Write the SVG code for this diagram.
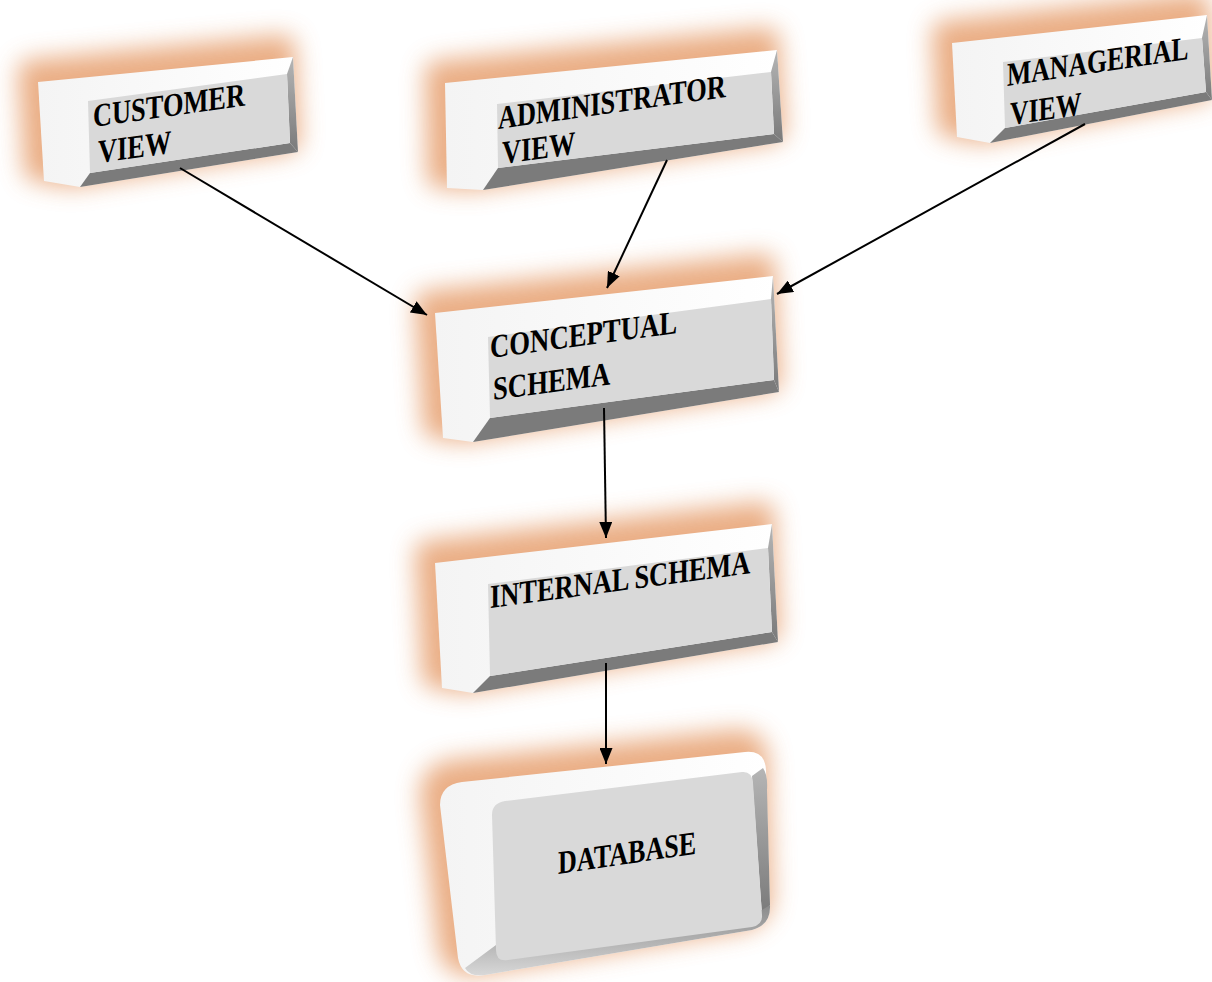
<svg xmlns="http://www.w3.org/2000/svg" width="1212" height="982" viewBox="0 0 1212 982">
  <defs>
    <filter id="glow" x="-40%" y="-80%" width="180%" height="260%">
      <feGaussianBlur stdDeviation="12"/>
    </filter>
    <linearGradient id="rightBevel" x1="0" y1="0" x2="0" y2="1">
      <stop offset="0" stop-color="#b5b5b5"/>
      <stop offset="1" stop-color="#7a7a7a"/>
    </linearGradient>
    <linearGradient id="leftSide" x1="0" y1="0" x2="1" y2="0">
      <stop offset="0" stop-color="#f4f4f4"/>
      <stop offset="1" stop-color="#ffffff"/>
    </linearGradient>
    <linearGradient id="dbBottom" x1="0" y1="0" x2="0" y2="1">
      <stop offset="0" stop-color="#8a8a8a"/>
      <stop offset="1" stop-color="#d8d8d8"/>
    </linearGradient>
    <marker id="arrow" markerUnits="userSpaceOnUse" markerWidth="16" markerHeight="13" viewBox="0 0 16 13" refX="16" refY="6.5" orient="auto">
      <path d="M0,0 L16,6.5 L0,13 Z" fill="#000"/>
    </marker>
  </defs>
  <style>
    .glow { fill: #e59a66; stroke: #e59a66; stroke-width: 22; stroke-linejoin: round; opacity: 0.8; filter: url(#glow); }
    .slab { fill: url(#leftSide); }
    .face { fill: #d9d9d9; }
    .bottom { fill: #7b7b7b; }
    .right { fill: url(#rightBevel); }
    .label { font-family: "Liberation Serif", "Times New Roman", serif; font-weight: bold; font-size: 33px; fill: #000; }
    .edge { stroke: #000; stroke-width: 2; fill: none; marker-end: url(#arrow); }
  </style>
  <rect width="1212" height="982" fill="#ffffff"/>

  <!-- customer view -->
  <g id="customer-view">
    <polygon class="glow" transform="translate(-9,-11)" points="38,82 293,57 298,152 80,187 44,181"/>
    <polygon class="slab" points="38,82 293,57 298,152 80,187 44,181"/>
    <polygon class="right" points="287,74 293,57 298,152 290,143"/>
    <polygon class="bottom" points="90,173 290,143 298,152 80,187"/>
    <polygon class="face" points="88,101 287,74 290,143 90,173"/>
    <text class="label" transform="translate(93 127) skewY(-8) scale(0.8 1)">CUSTOMER</text>
    <text class="label" transform="translate(98 163) skewY(-8) scale(0.8 1)">VIEW</text>
  </g>

  <!-- administrator view -->
  <g id="administrator-view">
    <polygon class="glow" transform="translate(-9,-11)" points="445,83 777,50 783,142 483,190 447,188"/>
    <polygon class="slab" points="445,83 777,50 783,142 483,190 447,188"/>
    <polygon class="right" points="771,72 777,50 783,142 774,134"/>
    <polygon class="bottom" points="498,168 774,134 783,142 483,190"/>
    <polygon class="face" points="497,104 771,72 774,134 498,168"/>
    <text class="label" transform="translate(498 129) skewY(-8) scale(0.8 1)">ADMINISTRATOR</text>
    <text class="label" transform="translate(502 164) skewY(-8) scale(0.8 1)">VIEW</text>
  </g>

  <!-- managerial view -->
  <g id="managerial-view">
    <polygon class="glow" transform="translate(-9,-11)" points="952,43 1207,15 1212,100 990,143 957,137"/>
    <polygon class="slab" points="952,43 1207,15 1212,100 990,143 957,137"/>
    <polygon class="right" points="1202,38 1207,15 1212,100 1206,92"/>
    <polygon class="bottom" points="1005,128 1206,92 1212,100 990,143"/>
    <polygon class="face" points="1003,62 1202,38 1206,92 1005,128"/>
    <text class="label" transform="translate(1007 86) skewY(-8.5) scale(0.78 1)">MANAGERIAL</text>
    <text class="label" transform="translate(1010 125) skewY(-8.5) scale(0.78 1)">VIEW</text>
  </g>

  <!-- conceptual schema -->
  <g id="conceptual-schema">
    <polygon class="glow" transform="translate(-9,-11)" points="435,313 773,276 779,392 473,442 443,438"/>
    <polygon class="slab" points="435,313 773,276 779,392 473,442 443,438"/>
    <polygon class="right" points="771,299 773,276 779,392 774,380"/>
    <polygon class="bottom" points="490,418 774,380 779,392 473,442"/>
    <polygon class="face" points="488,337 771,299 774,380 490,418"/>
    <text class="label" transform="translate(490 358) skewY(-7.6) scale(0.81 1)">CONCEPTUAL</text>
    <text class="label" transform="translate(493 400) skewY(-7.6) scale(0.81 1)">SCHEMA</text>
  </g>

  <!-- internal schema -->
  <g id="internal-schema">
    <polygon class="glow" transform="translate(-9,-11)" points="435,563 772,524 778,642 473,693 442,688"/>
    <polygon class="slab" points="435,563 772,524 778,642 473,693 442,688"/>
    <polygon class="right" points="768,548 772,524 778,642 772,632"/>
    <polygon class="bottom" points="490,676 772,632 778,642 473,693"/>
    <polygon class="face" points="488,584 768,548 772,632 490,676"/>
    <text class="label" transform="translate(490 608) skewY(-7.6) scale(0.8 1)">INTERNAL SCHEMA</text>
  </g>

  <!-- database -->
  <g id="database">
    <path class="glow" transform="translate(-9,-11)" d="M440,805 Q440,785 462,782 L745,752 Q765,750 766,770 L770,905 Q771,925 752,930 L485,975 Q462,979 458,958 Z"/>
    <path class="slab" d="M440,805 Q440,785 462,782 L745,752 Q765,750 766,770 L770,905 Q771,925 752,930 L485,975 Q462,979 458,958 Z"/>
    <path fill="url(#rightBevel)" d="M752,776 L763,768 Q768,775 767,790 L770,905 L762,915 Z"/>
    <path fill="url(#dbBottom)" d="M496,945 L762,910 L770,905 Q771,925 752,930 L485,975 Q470,977 465,968 Z"/>
    <path class="face" d="M492,815 Q492,803 505,801 L742,772 Q752,771 753,783 L762,915 Q763,925 752,927 L508,960 Q496,962 496,950 Z"/>
    <text class="label" transform="translate(558 874) skewY(-8.4) scale(0.79 1)">DATABASE</text>
  </g>

  <!-- connectors -->
  <g id="connectors">
    <line class="edge" x1="180" y1="168" x2="427" y2="315"/>
    <line class="edge" x1="667" y1="160" x2="607" y2="288"/>
    <line class="edge" x1="1085" y1="124" x2="777" y2="294"/>
    <line class="edge" x1="604" y1="408" x2="606" y2="538"/>
    <line class="edge" x1="606" y1="663" x2="606" y2="764"/>
  </g>
</svg>
